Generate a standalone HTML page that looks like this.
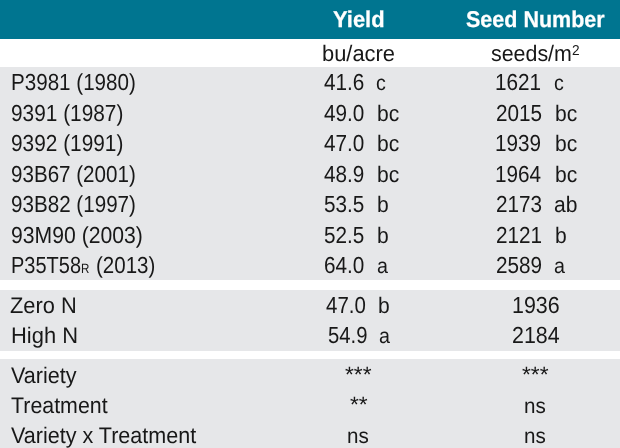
<!DOCTYPE html>
<html><head><meta charset="utf-8"><title>Yield and Seed Number</title>
<style>
html,body{margin:0;padding:0;background:#fff;}
body{width:620px;height:448px;position:relative;overflow:hidden;font-family:"Liberation Sans",sans-serif;color:#181818;}
.bg{position:absolute;left:0;width:620px;}
.t{position:absolute;height:40px;line-height:40px;white-space:pre;transform-origin:0 0;text-rendering:geometricPrecision;}
.h{font-weight:bold;color:#fff;-webkit-text-stroke:0.25px #fff;}
.sm{font-size:0.58em;}
.sup{font-size:0.64em;position:relative;top:-0.42em;}
</style></head><body>
<div class="bg" style="top:0;height:39px;background:#007590;"></div>
<div class="bg" style="top:67px;height:213px;background:#e6e7e9;"></div>
<div class="bg" style="top:290px;height:61px;background:#e6e7e9;"></div>
<div class="bg" style="top:359px;height:89px;background:#e6e7e9;"></div>
<div class="t " style="left:10.82px;top:62.00px;font-size:23.2px;transform:scaleX(0.8883)">P3981 (1980)</div>
<div class="t " style="left:324.45px;top:62.00px;font-size:23.2px;transform:scaleX(0.8940)">41.6</div>
<div class="t " style="left:376.38px;top:63.00px;font-size:21.4px;transform:scaleX(0.9200)">c</div>
<div class="t " style="left:495.44px;top:62.00px;font-size:23.2px;transform:scaleX(0.8940)">1621</div>
<div class="t " style="left:554.28px;top:63.00px;font-size:21.4px;transform:scaleX(0.9200)">c</div>
<div class="t " style="left:10.60px;top:93.00px;font-size:23.2px;transform:scaleX(0.8988)">9391 (1987)</div>
<div class="t " style="left:324.45px;top:93.00px;font-size:23.2px;transform:scaleX(0.8940)">49.0</div>
<div class="t " style="left:376.78px;top:94.00px;font-size:22.3px;transform:scaleX(0.9442)">bc</div>
<div class="t " style="left:495.88px;top:93.00px;font-size:23.2px;transform:scaleX(0.8940)">2015</div>
<div class="t " style="left:554.58px;top:94.00px;font-size:22.3px;transform:scaleX(0.9442)">bc</div>
<div class="t " style="left:10.60px;top:123.00px;font-size:23.2px;transform:scaleX(0.8988)">9392 (1991)</div>
<div class="t " style="left:324.45px;top:123.00px;font-size:23.2px;transform:scaleX(0.8940)">47.0</div>
<div class="t " style="left:376.78px;top:124.00px;font-size:22.3px;transform:scaleX(0.9442)">bc</div>
<div class="t " style="left:495.44px;top:123.00px;font-size:23.2px;transform:scaleX(0.8940)">1939</div>
<div class="t " style="left:554.58px;top:124.00px;font-size:22.3px;transform:scaleX(0.9442)">bc</div>
<div class="t " style="left:10.61px;top:154.00px;font-size:23.2px;transform:scaleX(0.8880)">93B67 (2001)</div>
<div class="t " style="left:324.45px;top:154.00px;font-size:23.2px;transform:scaleX(0.8940)">48.9</div>
<div class="t " style="left:376.78px;top:155.00px;font-size:22.3px;transform:scaleX(0.9442)">bc</div>
<div class="t " style="left:495.44px;top:154.00px;font-size:23.2px;transform:scaleX(0.8940)">1964</div>
<div class="t " style="left:554.58px;top:155.00px;font-size:22.3px;transform:scaleX(0.9442)">bc</div>
<div class="t " style="left:10.61px;top:184.00px;font-size:23.2px;transform:scaleX(0.8891)">93B82 (1997)</div>
<div class="t " style="left:324.45px;top:184.00px;font-size:23.2px;transform:scaleX(0.8940)">53.5</div>
<div class="t " style="left:376.78px;top:185.00px;font-size:22.3px;transform:scaleX(0.9442)">b</div>
<div class="t " style="left:495.88px;top:184.00px;font-size:23.2px;transform:scaleX(0.8940)">2173</div>
<div class="t " style="left:554.46px;top:185.00px;font-size:22.3px;transform:scaleX(0.9442)">ab</div>
<div class="t " style="left:10.59px;top:215.00px;font-size:23.2px;transform:scaleX(0.9134)">93M90 (2003)</div>
<div class="t " style="left:324.45px;top:215.00px;font-size:23.2px;transform:scaleX(0.8940)">52.5</div>
<div class="t " style="left:376.78px;top:216.00px;font-size:22.3px;transform:scaleX(0.9442)">b</div>
<div class="t " style="left:495.88px;top:215.00px;font-size:23.2px;transform:scaleX(0.8940)">2121</div>
<div class="t " style="left:554.58px;top:216.00px;font-size:22.3px;transform:scaleX(0.9442)">b</div>
<div class="t " style="left:10.88px;top:245.00px;font-size:23.2px;transform:scaleX(0.8623)">P35T58<span class="sm">R</span></div>
<div class="t " style="left:324.45px;top:245.00px;font-size:23.2px;transform:scaleX(0.8940)">64.0</div>
<div class="t " style="left:376.68px;top:246.00px;font-size:21.4px;transform:scaleX(0.9200)">a</div>
<div class="t " style="left:495.88px;top:245.00px;font-size:23.2px;transform:scaleX(0.8940)">2589</div>
<div class="t " style="left:554.48px;top:246.00px;font-size:21.4px;transform:scaleX(0.9200)">a</div>
<div class="t " style="left:95.77px;top:245.00px;font-size:23.2px;transform:scaleX(0.8844)">(2013)</div>
<div class="t " style="left:10.48px;top:286.00px;font-size:22.6px;transform:scaleX(0.9654)">Zero N</div>
<div class="t " style="left:326.26px;top:285.00px;font-size:23.2px;transform:scaleX(0.8823)">47.0</div>
<div class="t " style="left:377.88px;top:286.00px;font-size:22.3px;transform:scaleX(0.9442)">b</div>
<div class="t " style="left:512.28px;top:285.00px;font-size:23.2px;transform:scaleX(0.9251)">1936</div>
<div class="t " style="left:11.10px;top:316.00px;font-size:22.6px;transform:scaleX(0.9710)">High N</div>
<div class="t " style="left:328.03px;top:315.00px;font-size:23.2px;transform:scaleX(0.8744)">54.9</div>
<div class="t " style="left:379.08px;top:316.00px;font-size:21.4px;transform:scaleX(0.9200)">a</div>
<div class="t " style="left:512.15px;top:315.00px;font-size:23.2px;transform:scaleX(0.9226)">2184</div>
<div class="t " style="left:10.76px;top:356.00px;font-size:22.6px;transform:scaleX(0.9553)">Variety</div>
<div class="t " style="left:11.03px;top:386.00px;font-size:22.6px;transform:scaleX(0.9458)">Treatment</div>
<div class="t " style="left:10.76px;top:416.00px;font-size:22.6px;transform:scaleX(0.9538)">Variety x Treatment</div>
<div class="t st" style="left:344.99px;top:355.00px;font-size:22.3px;transform:scaleX(1.0200)">***</div>
<div class="t st" style="left:521.99px;top:355.00px;font-size:22.3px;transform:scaleX(1.0200)">***</div>
<div class="t st" style="left:349.79px;top:385.00px;font-size:22.3px;transform:scaleX(1.0200)">**</div>
<div class="t " style="left:524.36px;top:386.00px;font-size:21.4px;transform:scaleX(0.9630)">ns</div>
<div class="t " style="left:347.36px;top:416.00px;font-size:21.4px;transform:scaleX(0.9630)">ns</div>
<div class="t " style="left:524.36px;top:416.00px;font-size:21.4px;transform:scaleX(0.9630)">ns</div>
<div class="t h" style="left:332.86px;top:-1.00px;font-size:22.8px;transform:scaleX(0.9615)">Yield</div>
<div class="t h" style="left:466.33px;top:-1.00px;font-size:22.8px;transform:scaleX(0.9436)">Seed Number</div>
<div class="t " style="left:321.93px;top:34.00px;font-size:22.3px;transform:scaleX(0.9819)">bu/acre</div>
<div class="t " style="left:491.28px;top:34.00px;font-size:22.3px;transform:scaleX(0.9598)">seeds/m<span class="sup">2</span></div>
</body></html>
